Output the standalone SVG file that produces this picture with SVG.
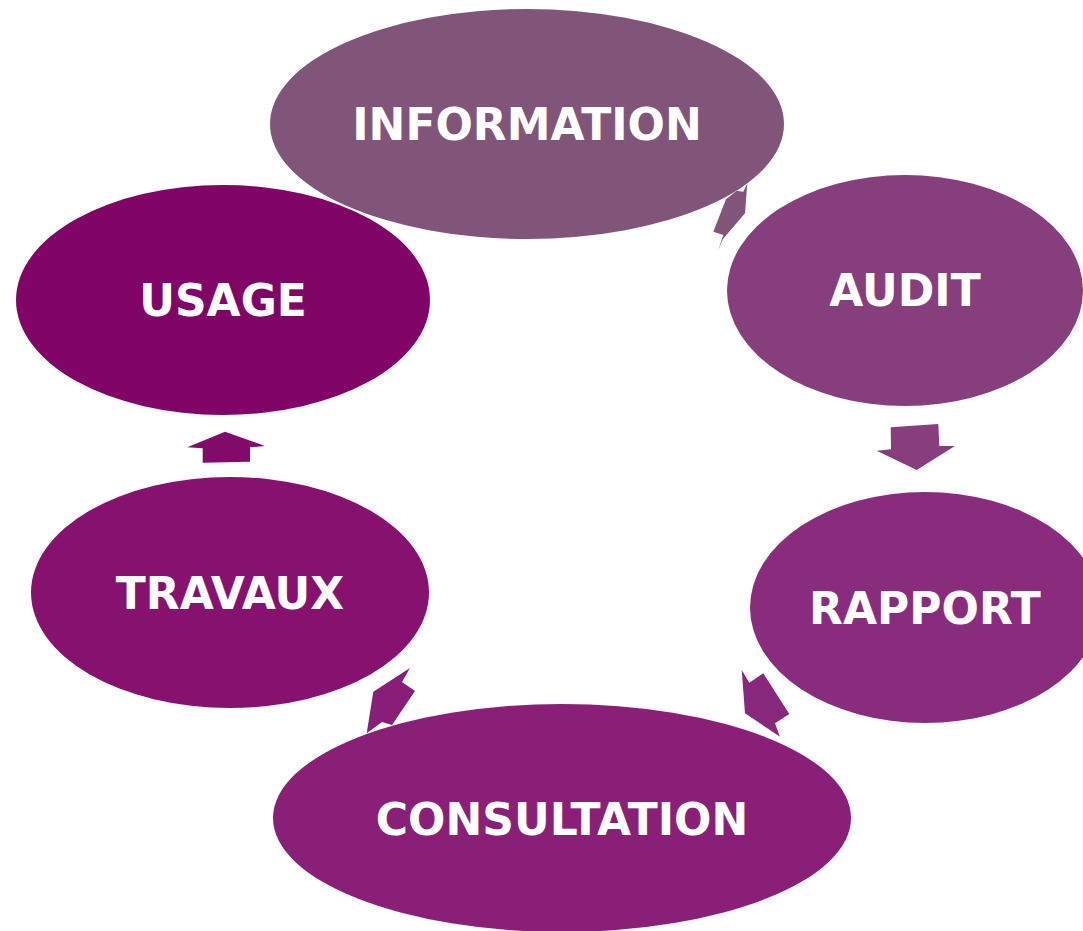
<svg xmlns="http://www.w3.org/2000/svg" width="1083" height="931" viewBox="0 0 1083 931">
<style>
.lbl{font-family:"DejaVu Sans",Verdana,sans-serif;font-weight:bold;font-size:44px;fill:#ffffff;text-anchor:middle}
</style>
<rect width="1083" height="931" fill="#ffffff"/>
<g id="connectors">
<polygon fill="#815579" points="713.3,231.7 723.3,235 718.3,250 723,239 745,213.3 747.3,183.3 743.3,191.7 736.7,190.7 726,199.3"/>
<polygon fill="#863E7C" points="890.7,427.3 938.3,424 939.3,446 955,446 916.7,470 876.7,450.7 891,449.3"/>
<polygon fill="#88287C" points="741.7,670 749.3,682.7 763.3,673.3 789.3,714 775,723.3 780,736.7 745,713.3"/>
<polygon fill="#881E77" points="410,668 402,682 415,691 392,725 382,722 366.7,733.3 373.3,691.7"/>
<polygon fill="#820A6A" points="225,431.7 265,446 250,447.3 250,461.7 202.7,462.7 202.7,448.3 187.3,447.3"/>
</g>
<g id="information">
<ellipse cx="527" cy="124" rx="257" ry="115" fill="#815579"/>
<text class="lbl" x="527" y="140">INFORMATION</text>
</g>
<g id="audit">
<ellipse cx="905" cy="290.5" rx="178" ry="115.5" fill="#873E7D"/>
<text class="lbl" x="905" y="306">AUDIT</text>
</g>
<g id="rapport">
<ellipse cx="925" cy="607.5" rx="175" ry="115.5" fill="#8A2C7D"/>
<text class="lbl" x="925" y="624">RAPPORT</text>
</g>
<g id="consultation">
<ellipse cx="562" cy="818" rx="289" ry="114" fill="#891F77"/>
<text class="lbl" x="562" y="835">CONSULTATION</text>
</g>
<g id="travaux">
<ellipse cx="230" cy="592.5" rx="199" ry="115.5" fill="#86116E"/>
<text class="lbl" x="230" y="609">TRAVAUX</text>
</g>
<g id="usage">
<ellipse cx="223" cy="300" rx="207" ry="115" fill="#810566"/>
<text class="lbl" x="223" y="316">USAGE</text>
</g>
</svg>
